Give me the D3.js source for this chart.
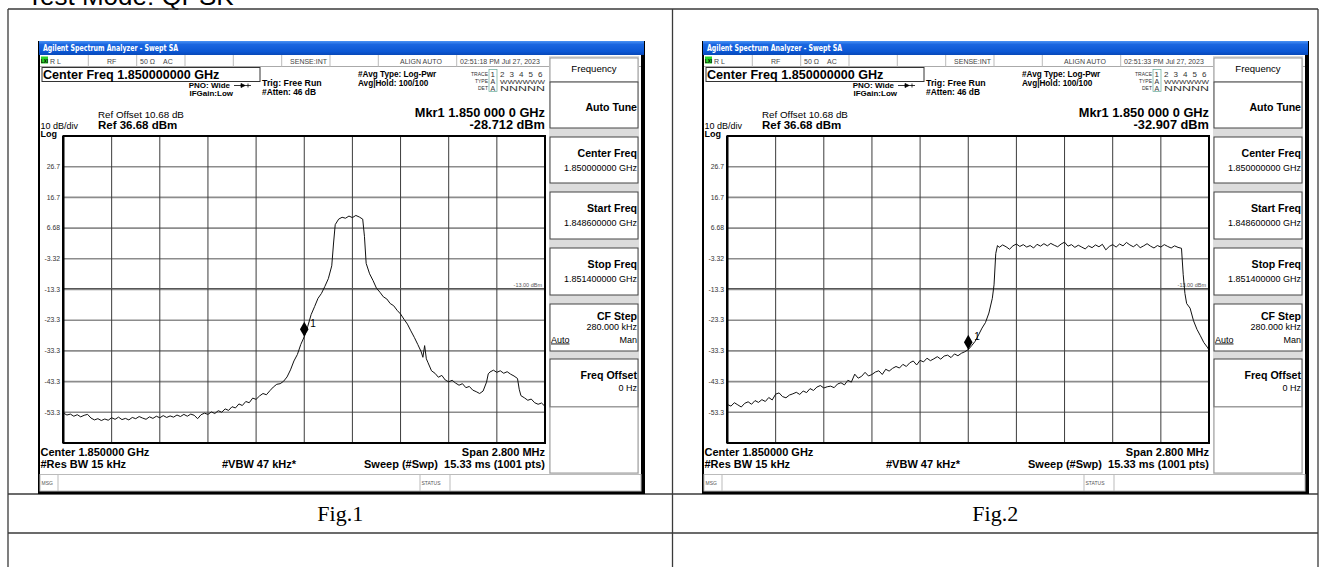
<!DOCTYPE html>
<html>
<head>
<meta charset="utf-8">
<title>Spectrum plots</title>
<script src="https://cdnjs.cloudflare.com/ajax/libs/d3/7.8.5/d3.min.js"></script>
<style>
  body { margin: 0; background: #fff; }
  svg text { font-family: "Liberation Sans", Arial, sans-serif; }
</style>
</head>
<body>
<svg id="page" width="1327" height="567"></svg>
<script>
// ---------- data ----------
const refLevel = 36.68;      // dBm, top of the screen
const dbPerDiv = 10;
const spanMHz = 2.8;
const yTickLabels = ["26.7", "16.7", "6.68", "-3.32", "-13.3", "-23.3", "-33.3", "-43.3", "-53.3"];
const displayLine = -13.0;

// Fig.1 trace (offset from 1.85 GHz in MHz, level in dBm)
const fig1Offset = [
  -1.40,-1.38,-1.36,-1.34,-1.32,-1.30,-1.28,-1.26,-1.24,-1.22,
  -1.20,-1.18,-1.16,-1.14,-1.12,-1.10,-1.08,-1.06,-1.04,-1.02,
  -1.00,-0.98,-0.96,-0.94,-0.92,-0.90,-0.88,-0.86,-0.84,-0.82,
  -0.80,-0.78,-0.76,-0.74,-0.72,-0.70,-0.68,-0.66,-0.64,-0.62,
  -0.60,-0.58,-0.56,-0.54,-0.52,-0.50,-0.48,-0.46,-0.44,-0.42,
  -0.40,-0.38,-0.36,-0.34,-0.32,-0.30,-0.28,-0.26,-0.24,-0.22,
  -0.20,-0.18,-0.16,-0.14,
  -0.12,-0.10,-0.08,-0.06,-0.04,-0.02,
  0.00,0.02,0.04,0.06,0.08,0.10,0.12,0.14,0.16,0.17,
  0.18,0.20,0.22,0.24,0.26,0.28,0.30,0.32,0.34,0.35,0.36,
  0.38,0.40,0.42,0.44,0.46,0.48,0.50,0.52,0.54,0.56,0.58,0.60,0.62,0.64,0.66,0.68,
  0.69,0.70,0.71,
  0.72,0.74,0.76,0.78,0.80,0.82,0.84,0.86,0.88,0.90,0.92,0.94,0.96,0.98,1.00,1.02,1.04,1.06,
  1.07,1.08,1.10,1.12,1.14,1.16,1.18,1.20,1.22,1.24,
  1.25,1.26,1.28,1.30,1.32,1.34,1.36,1.38,1.40
];
const fig1Level = [
  -53.6,-54.2,-53.9,-54.6,-54.1,-54.8,-54.3,-54.0,-55.2,-55.8,
  -55.4,-56.0,-55.5,-55.9,-55.1,-55.6,-54.9,-55.7,-55.3,-55.8,
  -55.0,-55.4,-54.7,-55.2,-55.6,-54.8,-55.3,-54.6,-55.1,-54.4,
  -55.0,-54.5,-54.9,-54.2,-54.7,-54.0,-54.6,-53.9,-54.3,-55.4,
  -54.1,-53.6,-54.0,-53.2,-53.7,-52.8,-53.3,-52.2,-52.7,-51.5,
  -51.9,-50.6,-51.1,-49.8,-50.2,-48.7,-49.1,-48.0,-47.2,-47.6,
  -46.3,-45.1,-44.2,-44.0,
  -43.2,-41.8,-39.5,-36.6,-34.5,-31.2,
  -28.7,-25.4,-21.5,-18.9,-16.2,-14.6,-12.3,-9.8,-5.6,1.5,
  7.8,9.6,10.2,9.9,10.6,10.1,10.8,10.3,9.6,4.0,-4.8,
  -8.2,-10.4,-12.9,-14.2,-15.7,-16.4,-17.9,-18.6,-20.1,-21.3,-23.0,-24.6,-26.8,-28.9,-31.2,-33.6,
  -35.4,-31.6,-35.9,
  -37.2,-39.8,-40.6,-41.9,-41.3,-42.8,-43.4,-42.9,-43.8,-44.5,-44.0,-45.3,-44.9,-46.1,-46.6,-47.2,-46.4,-43.5,
  -40.8,-40.2,-39.6,-40.3,-39.8,-40.6,-40.1,-40.9,-41.5,-42.3,
  -45.8,-47.9,-48.6,-49.4,-49.0,-50.2,-50.7,-50.3,-51.4
];

// Fig.2 trace
const fig2Offset = [
  -1.40,-1.38,-1.36,-1.34,-1.32,-1.30,-1.28,-1.26,-1.24,-1.22,
  -1.20,-1.18,-1.16,-1.14,-1.12,-1.10,-1.08,-1.06,-1.04,-1.02,
  -1.00,-0.98,-0.96,-0.94,-0.92,-0.90,-0.88,-0.86,-0.84,-0.82,
  -0.80,-0.78,-0.76,-0.74,-0.72,-0.70,-0.68,-0.66,-0.64,-0.62,
  -0.60,-0.58,-0.56,-0.54,-0.52,-0.50,-0.48,-0.46,-0.44,-0.42,
  -0.40,-0.38,-0.36,-0.34,-0.32,-0.30,-0.28,-0.26,-0.24,-0.22,
  -0.20,-0.18,-0.16,-0.14,-0.12,-0.10,-0.08,-0.06,-0.04,-0.02,
  0.00,0.02,0.04,0.06,0.08,0.10,0.12,0.14,0.15,0.16,0.17,
  0.18,0.20,0.22,0.24,0.26,0.28,0.30,0.32,0.34,0.36,
  0.38,0.40,0.42,0.44,0.46,0.48,0.50,0.52,0.54,0.56,
  0.58,0.60,0.62,0.64,0.66,0.68,0.70,0.72,0.74,0.76,
  0.78,0.80,0.82,0.84,0.86,0.88,0.90,0.92,0.94,0.96,
  0.98,1.00,1.02,1.04,1.06,1.08,1.10,1.12,1.14,1.16,
  1.18,1.20,1.22,1.24,
  1.25,1.26,1.27,1.29,1.31,1.33,1.35,1.37,1.39,1.40
];
const fig2Level = [
  -50.8,-51.3,-50.2,-50.9,-51.6,-50.4,-49.9,-50.7,-49.5,-50.1,
  -49.2,-49.8,-48.5,-49.3,-47.4,-47.0,-48.2,-48.6,-47.7,-47.3,
  -46.8,-47.5,-46.4,-46.9,-45.6,-46.2,-45.1,-44.6,-45.4,-45.0,
  -44.8,-45.3,-44.1,-43.7,-44.4,-42.9,-43.5,-40.9,-42.2,-41.6,
  -40.3,-41.5,-41.0,-40.2,-39.8,-41.0,-39.3,-39.9,-39.0,-38.4,
  -38.9,-37.7,-38.4,-37.2,-36.6,-37.9,-36.4,-36.9,-35.7,-36.5,
  -35.9,-35.2,-36.0,-35.0,-34.7,-35.5,-34.3,-34.9,-34.1,-33.6,
  -32.9,-31.6,-30.2,-28.1,-25.9,-24.1,-21.0,-16.2,-11.8,-1.6,1.0,
  0.4,1.2,0.6,-0.2,0.9,1.5,0.7,1.3,0.5,1.0,
  0.2,1.4,0.8,1.6,0.9,1.7,1.1,0.6,1.5,2.1,
  0.8,1.3,0.4,1.1,0.5,-0.1,0.9,0.3,1.2,0.6,
  1.4,-0.4,0.7,1.3,0.5,1.5,0.9,2.0,1.2,0.6,
  1.4,0.3,0.9,1.6,0.8,0.2,1.0,0.5,1.3,0.7,
  0.2,0.9,0.4,0.1,
  -8.5,-14.6,-17.9,-19.4,-23.5,-26.3,-28.4,-30.6,-32.1,-33.0
];

const screens = [
  { x: 38,  time: "02:51:18 PM Jul 27, 2023", mkrLevel: -28.712, mkrText: "-28.712 dBm", offset: fig1Offset, level: fig1Level },
  { x: 702, time: "02:51:33 PM Jul 27, 2023", mkrLevel: -32.907, mkrText: "-32.907 dBm", offset: fig2Offset, level: fig2Level }
];
const captions = ["Fig.1", "Fig.2"];

const softkeys = [
  { title: "Auto Tune",   value: "",                y0: 41,  y1: 87 },
  { title: "Center Freq", value: "1.850000000 GHz", y0: 96,  y1: 142 },
  { title: "Start Freq",  value: "1.848600000 GHz", y0: 151, y1: 198 },
  { title: "Stop Freq",   value: "1.851400000 GHz", y0: 207, y1: 254 },
  { title: "CF Step",     value: "280.000 kHz",     y0: 263, y1: 310 },
  { title: "Freq Offset", value: "0 Hz",            y0: 318, y1: 366 }
];

// ---------- page ----------
const page = d3.select("#page");
const defs = page.append("defs");
const grad = defs.append("linearGradient").attr("id", "titlebar").attr("x1", 0).attr("y1", 0).attr("x2", 0).attr("y2", 1);
grad.append("stop").attr("offset", "0%").attr("stop-color", "#4a92f4");
grad.append("stop").attr("offset", "25%").attr("stop-color", "#1a66e0");
grad.append("stop").attr("offset", "75%").attr("stop-color", "#0b57d4");
grad.append("stop").attr("offset", "100%").attr("stop-color", "#0848b8");

function txt(g, x, y, s, size, opts = {}) {
  const t = g.append("text")
    .attr("x", x).attr("y", y)
    .attr("font-size", size)
    .attr("font-weight", opts.bold ? "bold" : "normal")
    .attr("text-anchor", opts.anchor || "start")
    .attr("fill", opts.fill || "#000")
    .text(s);
  if (opts.family) t.style("font-family", opts.family);
  return t;
}

// heading (cut by the top edge)
txt(page, 27, 5, "Test Mode: QPSK", 26);

// table grid
const tbl = { left: 8, top: 9, mid: 672.5, right: 1318, row1: 494, row2: 533 };
const tableLines = [
  [tbl.left, tbl.top, tbl.right, tbl.top],
  [tbl.left, tbl.row1, tbl.right, tbl.row1],
  [tbl.left, tbl.row2, tbl.right, tbl.row2],
  [tbl.left, tbl.top, tbl.left, 567],
  [tbl.mid, tbl.top, tbl.mid, 567],
  [tbl.right, tbl.top, tbl.right, 567]
];
page.append("g").selectAll("line").data(tableLines).enter().append("line")
  .attr("x1", d => d[0]).attr("y1", d => d[1]).attr("x2", d => d[2]).attr("y2", d => d[3])
  .attr("stroke", "#3a3a3a").attr("stroke-width", 1.3);

captions.forEach((c, i) => {
  const cx = i === 0 ? (tbl.left + tbl.mid) / 2 : (tbl.mid + tbl.right) / 2;
  txt(page, cx, 521, c, 22, { anchor: "middle", family: "'Liberation Serif', 'Times New Roman', serif" });
});

// ---------- analyzer screenshot ----------
function drawScreen(cfg) {
  const W = 607, H = 453;
  const g = page.append("g").attr("transform", `translate(${cfg.x},41)`);

  g.append("rect").attr("width", W).attr("height", H).attr("fill", "#000");
  g.append("rect").attr("x", 1).attr("y", 0).attr("width", W - 2).attr("height", 14).attr("fill", "url(#titlebar)");
  txt(g, 5, 10, "Agilent Spectrum Analyzer - Swept SA", 8.2, { bold: true, fill: "#fff", family: "'DejaVu Sans', sans-serif" })
    .attr("textLength", 135).attr("lengthAdjust", "spacingAndGlyphs");
  g.append("rect").attr("x", 2).attr("y", 14).attr("width", W - 6).attr("height", H - 17).attr("fill", "#fff");

  // status bar
  g.append("line").attr("x1", 2).attr("x2", W - 4).attr("y1", 25.5).attr("y2", 25.5).attr("stroke", "#aaa");
  [50.3, 98.7, 147, 195.3, 243.7, 292, 340.3, 418.7].forEach(x => {
    g.append("line").attr("x1", x).attr("x2", x).attr("y1", 14).attr("y2", 25.5).attr("stroke", "#bbb");
  });
  g.append("rect").attr("x", 3).attr("y", 15.5).attr("width", 7).attr("height", 7).attr("fill", "#2ad22a");
  txt(g, 6.5, 21.5, "LXI", 4.5, { anchor: "middle", bold: true });
  const st = { fill: "#444" };
  txt(g, 12, 22.5, "R L", 7, st);
  txt(g, 69, 22.5, "RF", 7, st);
  txt(g, 102, 22.5, "50 Ω", 7, st);
  txt(g, 125, 22.5, "AC", 7, st);
  txt(g, 289, 22.5, "SENSE:INT", 7, Object.assign({ anchor: "end" }, st));
  txt(g, 362, 22.5, "ALIGN AUTO", 7, st);
  txt(g, 422, 22.5, cfg.time, 7, st);

  // header area
  g.append("rect").attr("x", 4).attr("y", 26.5).attr("width", 218).attr("height", 14).attr("fill", "none").attr("stroke", "#333");
  txt(g, 5, 38, "Center Freq 1.850000000 GHz", 12.6, { bold: true });
  txt(g, 192, 47, "PNO: Wide", 8, { bold: true, anchor: "end" });
  g.append("path").attr("d", "M196,44.5 H213 M203,42.5 L207,44.5 L203,46.5 Z M210,42.5 V46.5").attr("stroke", "#000").attr("fill", "#000").attr("stroke-width", 0.8);
  txt(g, 195, 55, "IFGain:Low", 8, { bold: true, anchor: "end" });
  txt(g, 224, 45, "Trig: Free Run", 8.8, { bold: true });
  txt(g, 224, 54, "#Atten: 46 dB", 8.4, { bold: true });
  txt(g, 320, 35.5, "#Avg Type: Log-Pwr", 8.2, { bold: true });
  txt(g, 320, 45, "Avg|Hold: 100/100", 8.2, { bold: true });

  txt(g, 450, 35, "TRACE", 5, { anchor: "end", fill: "#333" });
  txt(g, 450, 42, "TYPE", 5, { anchor: "end", fill: "#333" });
  txt(g, 450, 49, "DET", 5, { anchor: "end", fill: "#333" });
  g.append("rect").attr("x", 451).attr("y", 28.5).attr("width", 8).attr("height", 22).attr("fill", "none").attr("stroke", "#6a9").attr("stroke-width", 0.7);
  ["1", "2", "3", "4", "5", "6"].forEach((d, i) => txt(g, 452.5 + i * 9.5, 36, d, 8, { fill: "#333" }));
  txt(g, 452.5, 43, "A", 7, { fill: "#333" });
  txt(g, 462, 43, "WWWWWW", 6, { fill: "#333" }).attr("textLength", 45).attr("lengthAdjust", "spacingAndGlyphs");
  txt(g, 452.5, 50, "A", 7, { fill: "#333" });
  txt(g, 462, 50, "NNNNN", 7, { fill: "#333" }).attr("textLength", 45).attr("lengthAdjust", "spacingAndGlyphs");

  txt(g, 507, 76, "Mkr1 1.850 000 0 GHz", 12.8, { bold: true, anchor: "end" });
  txt(g, 507, 87.5, cfg.mkrText, 12.8, { bold: true, anchor: "end" });
  txt(g, 60, 77, "Ref Offset 10.68 dB", 9.8);
  txt(g, 60, 87.5, "Ref 36.68 dBm", 11.5, { bold: true });
  txt(g, 2.5, 88, "10 dB/div", 9);
  txt(g, 2.5, 95.5, "Log", 9, { bold: true });

  // graticule
  const gx0 = 25.5, gx1 = 507, gy0 = 95, gy1 = 402;
  const x = d3.scaleLinear().domain([-spanMHz / 2, spanMHz / 2]).range([gx0, gx1]);
  const y = d3.scaleLinear().domain([refLevel - 10 * dbPerDiv, refLevel]).range([gy1, gy0]);
  const divs = d3.range(1, 10);

  g.append("rect").attr("x", gx0).attr("y", gy0).attr("width", gx1 - gx0).attr("height", gy1 - gy0).attr("fill", "#fff");
  g.append("g").selectAll("line").data(divs).enter().append("line")
    .attr("x1", gx0).attr("x2", gx1)
    .attr("y1", d => y(refLevel - d * dbPerDiv)).attr("y2", d => y(refLevel - d * dbPerDiv))
    .attr("stroke", "#8c8c8c").attr("stroke-width", 1.6);
  g.append("g").selectAll("line").data(divs).enter().append("line")
    .attr("y1", gy0).attr("y2", gy1)
    .attr("x1", d => x(-spanMHz / 2 + d * spanMHz / 10)).attr("x2", d => x(-spanMHz / 2 + d * spanMHz / 10))
    .attr("stroke", "#3c3c3c").attr("stroke-width", 1);
  g.append("line").attr("x1", gx0).attr("x2", gx1).attr("y1", y(displayLine)).attr("y2", y(displayLine))
    .attr("stroke", "#555").attr("stroke-width", 1);
  txt(g, gx1 - 3, y(displayLine) - 2, "-13.00 dBm", 5.5, { anchor: "end", fill: "#555" });

  g.append("g").selectAll("text").data(yTickLabels).enter().append("text")
    .attr("x", 22).attr("y", (d, i) => y(refLevel - (i + 1) * dbPerDiv) + 2.2)
    .attr("text-anchor", "end").attr("font-size", 6.8).attr("fill", "#333")
    .text(d => d);

  const clipId = "clip" + cfg.x;
  defs.append("clipPath").attr("id", clipId).append("rect")
    .attr("x", gx0).attr("y", gy0).attr("width", gx1 - gx0).attr("height", gy1 - gy0);
  const pts = cfg.offset.map((f, i) => [f, cfg.level[i]]);
  g.append("path").datum(pts)
    .attr("clip-path", `url(#${clipId})`)
    .attr("d", d3.line().x(d => x(d[0])).y(d => y(d[1])))
    .attr("fill", "none").attr("stroke", "#111").attr("stroke-width", 1);

  // marker 1
  const mx = x(0), my = y(cfg.mkrLevel);
  g.append("path").attr("d", `M${mx},${my} L${mx + 4.3},${my - 7.5} L${mx},${my - 15} L${mx - 4.3},${my - 7.5} Z`).attr("fill", "#000");
  txt(g, mx + 6, my - 10, "1", 10);

  // frame of the graticule
  g.append("rect").attr("x", gx0).attr("y", gy0).attr("width", gx1 - gx0).attr("height", gy1 - gy0)
    .attr("fill", "none").attr("stroke", "#000").attr("stroke-width", 2);
  g.append("line").attr("x1", gx0 - 0.5).attr("x2", gx0 - 0.5).attr("y1", gy0).attr("y2", gy1).attr("stroke", "#000").attr("stroke-width", 2);

  // footer
  txt(g, 2.5, 415, "Center 1.850000 GHz", 11, { bold: true });
  txt(g, 507, 415, "Span 2.800 MHz", 11, { bold: true, anchor: "end" });
  txt(g, 2.5, 427, "#Res BW 15 kHz", 11, { bold: true });
  txt(g, 184, 427, "#VBW 47 kHz*", 11, { bold: true });
  txt(g, 507, 427, "Sweep (#Swp)  15.33 ms (1001 pts)", 11, { bold: true, anchor: "end" }).attr("xml:space", "preserve");

  // message bar
  g.append("rect").attr("x", 2).attr("y", 433.5).attr("width", W - 6).attr("height", 16.5).attr("fill", "#fff").attr("stroke", "#bbb");
  [20, 382, 412].forEach(xx => g.append("line").attr("x1", xx).attr("x2", xx).attr("y1", 433.5).attr("y2", 450).attr("stroke", "#bbb"));
  txt(g, 3.5, 444, "MSG", 5, { fill: "#555" });
  txt(g, 383.5, 444, "STATUS", 5, { fill: "#555" });

  // softkey panel
  const kx0 = 512, kx1 = 600;
  g.append("rect").attr("x", kx0 - 1).attr("y", 15).attr("width", kx1 - kx0 + 2).attr("height", 418).attr("fill", "#dcdcdc");
  g.append("rect").attr("x", kx0).attr("y", 17).attr("width", kx1 - kx0).attr("height", 24).attr("fill", "#fff").attr("stroke", "#999");
  txt(g, (kx0 + kx1) / 2, 31, "Frequency", 9.6, { anchor: "middle" });
  softkeys.forEach(k => {
    g.append("rect").attr("x", kx0).attr("y", k.y0).attr("width", kx1 - kx0).attr("height", k.y1 - k.y0)
      .attr("fill", "#fff").attr("stroke", "#444");
    if (k.title === "Auto Tune") {
      txt(g, kx1 - 1, 70, k.title, 10.6, { bold: true, anchor: "end" });
    } else if (k.title === "CF Step") {
      txt(g, kx1 - 1, k.y0 + 16, k.title, 10.6, { bold: true, anchor: "end" });
      txt(g, kx1 - 1, k.y0 + 25.5, k.value, 9, { anchor: "end" });
      txt(g, kx0 + 1, k.y0 + 38.5, "Auto", 9).attr("text-decoration", "underline");
      txt(g, kx1 - 1, k.y0 + 38.5, "Man", 9, { anchor: "end" });
    } else {
      txt(g, kx1 - 1, k.y0 + 20, k.title, 10.6, { bold: true, anchor: "end" });
      txt(g, kx1 - 1, k.y0 + (k.title === "Freq Offset" ? 32 : 34), k.value, 9, { anchor: "end" });
    }
  });
  g.append("rect").attr("x", kx0).attr("y", 366).attr("width", kx1 - kx0).attr("height", 66).attr("fill", "#fff").attr("stroke", "#999");
}

screens.forEach(drawScreen);
</script>
</body>
</html>
